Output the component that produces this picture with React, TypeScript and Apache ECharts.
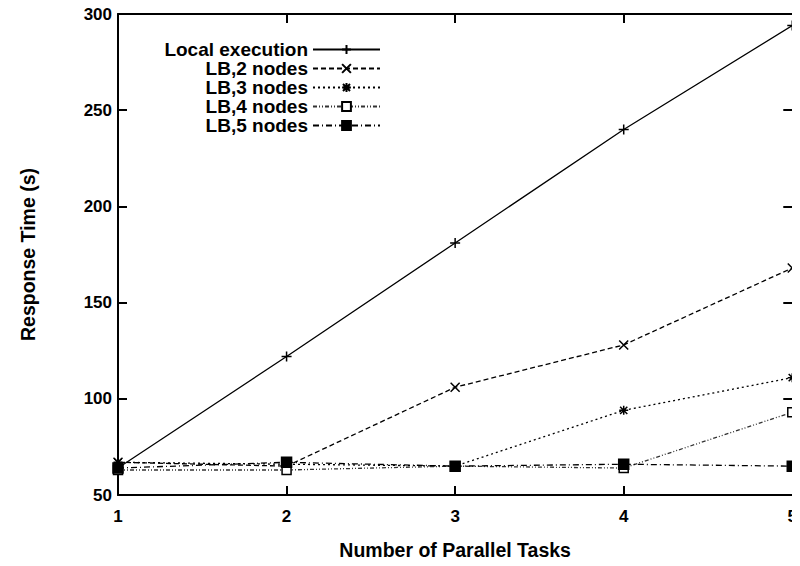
import React, { useEffect, useRef } from "react";
import * as echarts from "echarts";

const xValues = [1, 2, 3, 4, 5];
const seriesNames = ["Local execution", "LB,2 nodes", "LB,3 nodes", "LB,4 nodes", "LB,5 nodes"];
const localExecution = [64, 122, 181, 240, 294];
const lb2 = [67, 65, 106, 128, 168];
const lb3 = [67, 66, 65, 94, 111];
const lb4 = [63, 63, 65, 64, 93];
const lb5 = [64, 67, 65, 66, 65];
const yTicks = { min: 50, max: 300, interval: 50 };
const xTicks = { min: 1, max: 5, interval: 1 };

const FONT = "'Liberation Sans', Arial, Helvetica, sans-serif";

const plusPath = "path://M5,0L5,10M0,5L10,5";
const crossPath = "path://M0,0L10,10M10,0L0,10";
const starPath = "path://M5,0L5,10M0,5L10,5M1,1L9,9M9,1L1,9";

function zip(vals: number[]) {
  return xValues.map((x, i) => [x, vals[i]]);
}

export default function App() {
  const ref = useRef<HTMLDivElement>(null);
  useEffect(() => {
    if (!ref.current) return;
    const chart = echarts.init(ref.current, null, { renderer: "svg" });
    const lineBase = (
      name: string,
      vals: number[],
      symbol: string,
      dash: any,
      filled: boolean,
      size: number,
      color = "#000"
    ) => ({
      name,
      type: "line",
      data: zip(vals),
      symbol,
      symbolSize: size,
      showSymbol: true,
      lineStyle: { color, width: 1.3, type: dash },
      itemStyle: {
        color: filled ? "#000" : symbol === "rect" ? "#fff" : "none",
        borderColor: "#000",
        borderWidth: 1.5,
      },
      emphasis: { disabled: true },
      z: 3,
    });
    const axisTitle = { fontFamily: FONT, fontWeight: "bold", fontSize: 19.5, color: "#000" };
    chart.setOption({
      animation: false,
      backgroundColor: "#fff",
      grid: { left: 118, right: 5, top: 14, bottom: 71, containLabel: false },
      legend: {
        orient: "vertical",
        left: 158,
        top: 40,
        align: "right",
        itemWidth: 67,
        itemHeight: 11,
        itemGap: 0,
        padding: 0,
        selectedMode: false,
        data: seriesNames,
        textStyle: {
          fontFamily: FONT,
          fontWeight: "bold",
          fontSize: 19,
          lineHeight: 18,
          color: "#000",
          width: 150,
          align: "right",
        },
      },
      xAxis: [
        {
          type: "value",
          min: xTicks.min,
          max: xTicks.max,
          interval: xTicks.interval,
          position: "bottom",
          name: "Number of Parallel Tasks",
          nameLocation: "middle",
          nameGap: 45,
          nameTextStyle: axisTitle,
          axisLine: { show: true, lineStyle: { color: "#000", width: 2 } },
          axisTick: { show: true, inside: true, length: 9, lineStyle: { color: "#000", width: 2 } },
          axisLabel: { fontFamily: FONT, fontWeight: "bold", fontSize: 17, color: "#000", margin: 13 },
          splitLine: { show: false },
        },
        {
          type: "value",
          min: xTicks.min,
          max: xTicks.max,
          interval: xTicks.interval,
          position: "top",
          axisLine: { show: true, lineStyle: { color: "#000", width: 2 } },
          axisTick: { show: true, inside: true, length: 9, lineStyle: { color: "#000", width: 2 } },
          axisLabel: { show: false },
          splitLine: { show: false },
        },
      ],
      yAxis: [
        {
          type: "value",
          min: yTicks.min,
          max: yTicks.max,
          interval: yTicks.interval,
          position: "left",
          name: "Response Time (s)",
          nameLocation: "middle",
          nameGap: 80,
          nameRotate: 90,
          nameTextStyle: axisTitle,
          axisLine: { show: true, lineStyle: { color: "#000", width: 2 } },
          axisTick: { show: true, inside: true, length: 9, lineStyle: { color: "#000", width: 2 } },
          axisLabel: { fontFamily: FONT, fontWeight: "bold", fontSize: 17, color: "#000", margin: 6 },
          splitLine: { show: false },
        },
        {
          type: "value",
          min: yTicks.min,
          max: yTicks.max,
          interval: yTicks.interval,
          position: "right",
          axisLine: { show: true, lineStyle: { color: "#000", width: 2 } },
          axisTick: { show: true, inside: true, length: 9, lineStyle: { color: "#000", width: 2 } },
          axisLabel: { show: false },
          splitLine: { show: false },
        },
      ],
      series: [
        lineBase(seriesNames[0], localExecution, plusPath, "solid", false, 10),
        lineBase(seriesNames[1], lb2, crossPath, [5, 3], false, 9),
        lineBase(seriesNames[2], lb3, starPath, [2, 3], false, 9),
        lineBase(seriesNames[3], lb4, "rect", [4, 2, 1, 2, 1, 2], false, 9, "#333"),
        lineBase(seriesNames[4], lb5, "rect", [6, 3, 1, 3], true, 10),
      ],
    });
    return () => chart.dispose();
  }, []);
  return <div ref={ref} style={{ width: 800, height: 566, marginLeft: -8, marginTop: -8 }} />;
}
